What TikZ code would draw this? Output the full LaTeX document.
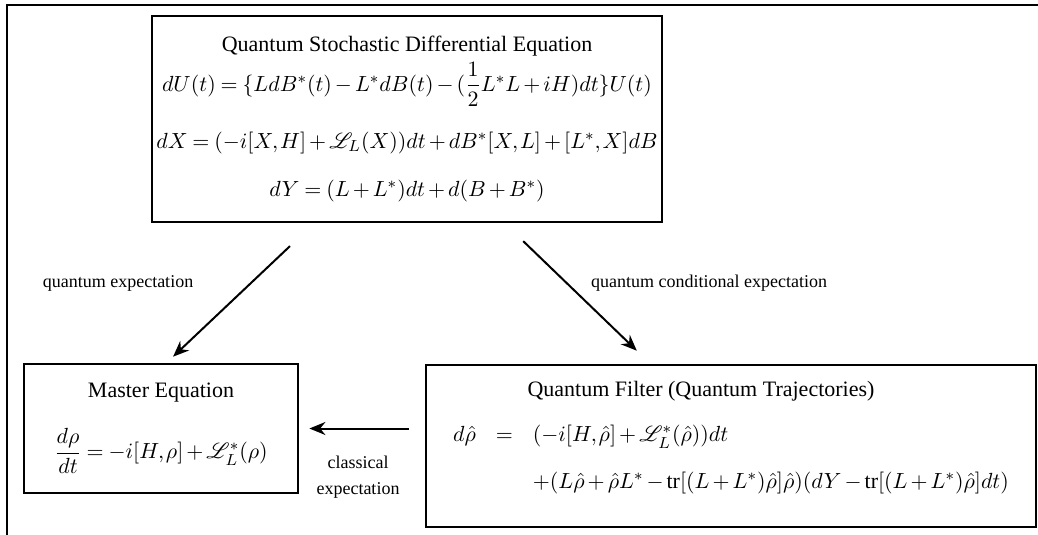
\documentclass[tikz,border=0pt]{standalone}
\usepackage{amsmath}
\usepackage{amssymb}
\usepackage{mathrsfs}
\usepackage{fontspec}
\setmainfont{Liberation Serif}
\usetikzlibrary{arrows.meta, positioning}
\newcommand{\eqfont}{\fontsize{11}{13}\selectfont\thickmuskip=4mu\relax\medmuskip=2.5mu\relax\thinmuskip=1.5mu\relax}

\begin{document}
\begin{tikzpicture}[x=0.5pt, y=-0.5pt,
  box/.style={rectangle, draw=black, line width=1.4pt, inner sep=0pt,
              font=\eqfont, align=center},
  lbl/.style={font=\fontsize{9}{13}\selectfont, align=center, inner sep=0pt},
  arr/.style={-{Stealth[length=8pt, width=6.5pt]}, line width=1pt}
]
  \useasboundingbox (0,0) rectangle (1038,535);
  \draw[line width=1pt] (7,535) -- (7,5) -- (1038,5);

  \node[box, minimum width=255pt, minimum height=103pt] (qsde) at (407,119)
    {Quantum Stochastic Differential Equation\\[2pt]
     $dU(t)=\{LdB^*(t)-L^*dB(t)-(\dfrac{1}{2}L^*L+iH)dt\}U(t)$\\[12pt]
     $dX=(-i[X,H]+\mathscr{L}_L(X))dt+dB^*[X,L]+[L^*,X]dB$\\[11pt]
     $dY=(L+L^*)dt+d(B+B^*)$};
  \node[box, minimum width=137pt, minimum height=64.5pt] (master) at (161,428.5)
    {Master Equation\\[12pt]
     $\dfrac{d\rho}{dt}=-i[H,\rho]+\mathscr{L}_L^*(\rho)$};
  \node[box, minimum width=305pt, minimum height=81pt] (filter) at (731,446)
    {Quantum Filter (Quantum Trajectories)\hspace*{30pt}\\[10pt]
     $\begin{array}{rcl}
       d\hat\rho &=& (-i[H,\hat\rho]+\mathscr{L}_L^*(\hat\rho))dt\\[10.5pt]
       && +(L\hat\rho+\hat\rho L^*-\mathrm{tr}[(L+L^*)\hat\rho]\hat\rho)(dY-\mathrm{tr}[(L+L^*)\hat\rho]dt)
     \end{array}$\\[6pt]\mbox{}};

  \node[lbl] (qexp) at (118,283) {quantum expectation};
  \node[lbl] (qcexp) at (709,283) {quantum conditional expectation};
  \node[lbl] (cexp) at (358,477) {classical\\expectation};

  \draw[arr, shorten <=16.5pt, shorten >=4.3pt]
    ([xshift=-46.5pt]qsde.south) -- ([xshift=2.9pt]master.north);
  \draw[arr, shorten <=12.8pt, shorten >=9.3pt]
    ([xshift=48.9pt]qsde.south) -- ([xshift=-40.4pt]filter.north);
  \draw[arr, shorten <=8pt, shorten >=5pt]
    (filter.west |- master.east) -- (master.east);
\end{tikzpicture}
\end{document}
